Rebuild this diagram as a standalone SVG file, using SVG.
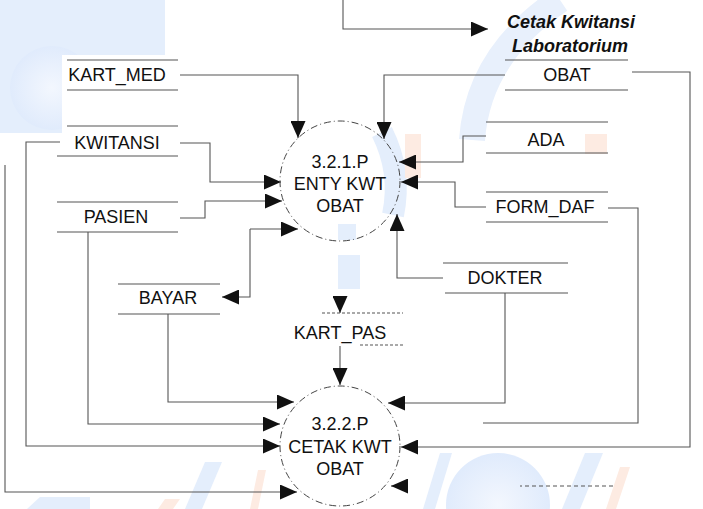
<svg xmlns="http://www.w3.org/2000/svg" width="703" height="509" viewBox="0 0 703 509">
<defs>
<style>
.wm{fill:#e4eefc;stroke:none}
.wo{fill:#fdebe2;stroke:none}
.st line{stroke:#555;stroke-width:1.1}
.lbl{font-family:"Liberation Sans",Arial,sans-serif;font-size:18px;fill:#111;text-anchor:middle}
.ptx{font-family:"Liberation Sans",Arial,sans-serif;font-size:18px;fill:#111;text-anchor:middle}
.ttl{font-family:"Liberation Sans",Arial,sans-serif;font-size:18px;font-weight:bold;font-style:italic;fill:#111;text-anchor:middle}
.proc{fill:none;stroke:#444;stroke-width:1;stroke-dasharray:7 3 1 3}
#connectors path{fill:none;stroke:#555;stroke-width:1.1}
</style>
<marker id="ah" viewBox="0 0 17 15" refX="17" refY="7.5" markerWidth="17" markerHeight="15" markerUnits="userSpaceOnUse" orient="auto">
<path d="M0,0 L17,7.5 L0,15 z" fill="#111"/>
</marker>
<radialGradient id="g1" cx="0.5" cy="0.5" r="0.5">
<stop offset="0" stop-color="#f3f7fe"/><stop offset="1" stop-color="#e0ebfc"/>
</radialGradient>
</defs>
<rect x="0" y="0" width="703" height="509" fill="#ffffff"/>
<g id="watermark">
<path class="wm" d="M0,0 H165 V133 H0 Z"/>
<circle cx="52" cy="88" r="42" fill="url(#g1)"/>
<rect x="62" y="55" width="122" height="80" fill="#ffffff"/>
<path d="M560,0 Q478,55 472,140" fill="none" stroke="#e8f0fc" stroke-width="26"/>
<path d="M382,132 Q402,172 393,215" fill="none" stroke="#e4eefc" stroke-width="22"/>
<rect x="405" y="134" width="16" height="44" class="wo"/>
<rect x="585" y="134" width="22" height="20" class="wo"/>
<rect x="338" y="224" width="18" height="16" class="wm"/>
<rect x="338" y="255" width="22" height="34" class="wm"/>
<circle cx="498" cy="505" r="52" fill="url(#g1)"/>
<path class="wm" d="M423,509 L440,453 L452,453 L435,509 Z"/>
<path class="wm" d="M562,509 L585,453 L603,453 L580,509 Z"/>
<path class="wo" d="M606,509 L620,467 L630,467 L616,509 Z"/>
<path class="wo" d="M250,509 L258,470 L266,470 L258,509 Z"/>
<path class="wm" d="M185,509 L205,462 L222,462 L202,509 Z"/>
<path class="wm" d="M27,509 L40,497 L90,497 L90,509 Z"/>
<path class="wo" d="M158,509 L165,499 L180,499 L173,509 Z"/>
</g>
<g id="connectors">
<path d="M343,0 L343,29 L488,29" marker-end="url(#ah)"/>
<path d="M180,75 L298,75 L298,138" marker-end="url(#ah)"/>
<path d="M505,75 L384,75 L384,139" marker-end="url(#ah)"/>
<path d="M486,136 L463,136 L463,162 L399,162" marker-end="url(#ah)"/>
<path d="M486,207 L455,207 L455,182 L401,182" marker-end="url(#ah)"/>
<path d="M443,278 L397,278 L397,214" marker-end="url(#ah)"/>
<path d="M180,143 L210,143 L210,182 L281,182" marker-end="url(#ah)"/>
<path d="M180,218 L205,218 L205,201 L282,201" marker-end="url(#ah)"/>
<path d="M250,229 L298,229" marker-end="url(#ah)"/>
<path d="M250,229 L250,297 L222,297" marker-end="url(#ah)"/>
<path d="M340,296 L340,313" marker-end="url(#ah)"/>
<path d="M340,346 L340,385" marker-end="url(#ah)"/>
<path d="M168,314 L168,402 L294,402" marker-end="url(#ah)"/>
<path d="M88,232 L88,424 L280,424" marker-end="url(#ah)"/>
<path d="M60,142 L26,142 L26,446 L280,446" marker-end="url(#ah)"/>
<path d="M5,165 L5,492 L297,492" marker-end="url(#ah)"/>
<path d="M505,293 L505,403 L388,403" marker-end="url(#ah)"/>
<path d="M632,72 L690,72 L690,447 L401,447" marker-end="url(#ah)"/>
<path d="M608,208 L638,208 L638,423 L483,423"/>
<path d="M613,486 L520,486" stroke-dasharray="4 3"/>
<path d="M408,486 L391,486" marker-end="url(#ah)"/>
</g>
<g id="title">
<text class="ttl" x="571" y="28">Cetak Kwitansi</text>
<text class="ttl" x="570" y="52">Laboratorium</text>
</g>
<g id="store-kart-med" class="st">
<line x1="67" y1="60" x2="178" y2="60"/><line x1="67" y1="90" x2="178" y2="90"/>
<text class="lbl" x="117" y="81">KART_MED</text>
</g>
<g id="store-kwitansi" class="st">
<line x1="67" y1="126" x2="178" y2="126"/><line x1="57" y1="156" x2="178" y2="156"/>
<text class="lbl" x="117" y="149">KWITANSI</text>
</g>
<g id="store-pasien" class="st">
<line x1="57" y1="202" x2="178" y2="202"/><line x1="57" y1="232" x2="178" y2="232"/>
<text class="lbl" x="116" y="223">PASIEN</text>
</g>
<g id="store-bayar" class="st">
<line x1="118" y1="284" x2="220" y2="284"/><line x1="118" y1="314" x2="220" y2="314"/>
<text class="lbl" x="168" y="304">BAYAR</text>
</g>
<g id="store-obat" class="st">
<line x1="505" y1="60" x2="628" y2="60"/><line x1="505" y1="90" x2="628" y2="90"/>
<text class="lbl" x="567" y="81">OBAT</text>
</g>
<g id="store-ada" class="st">
<line x1="486" y1="122" x2="608" y2="122"/><line x1="486" y1="153" x2="608" y2="153"/>
<text class="lbl" x="546" y="146">ADA</text>
</g>
<g id="store-form-daf" class="st">
<line x1="486" y1="192" x2="608" y2="192"/><line x1="486" y1="222" x2="608" y2="222"/>
<text class="lbl" x="545" y="213">FORM_DAF</text>
</g>
<g id="store-dokter" class="st">
<line x1="443" y1="263" x2="568" y2="263"/><line x1="445" y1="293" x2="568" y2="293"/>
<text class="lbl" x="505" y="284">DOKTER</text>
</g>
<g id="store-kart-pas" class="st">
<line x1="322" y1="313" x2="403" y2="313" stroke-dasharray="3 2"/><line x1="360" y1="345" x2="403" y2="345" stroke-dasharray="3 2"/>
<text class="lbl" x="340" y="339">KART_PAS</text>
</g>
<g id="proc-3-2-1">
<circle class="proc" cx="340" cy="181" r="60" fill="none"/>
<text class="ptx" x="340" y="168">3.2.1.P</text>
<text class="ptx" x="340" y="190">ENTY KWT</text>
<text class="ptx" x="340" y="212">OBAT</text>
</g>
<g id="proc-3-2-2">
<circle class="proc" cx="340" cy="446" r="60" fill="none"/>
<text class="ptx" x="340" y="430">3.2.2.P</text>
<text class="ptx" x="340" y="453">CETAK KWT</text>
<text class="ptx" x="340" y="475">OBAT</text>
</g>
</svg>
